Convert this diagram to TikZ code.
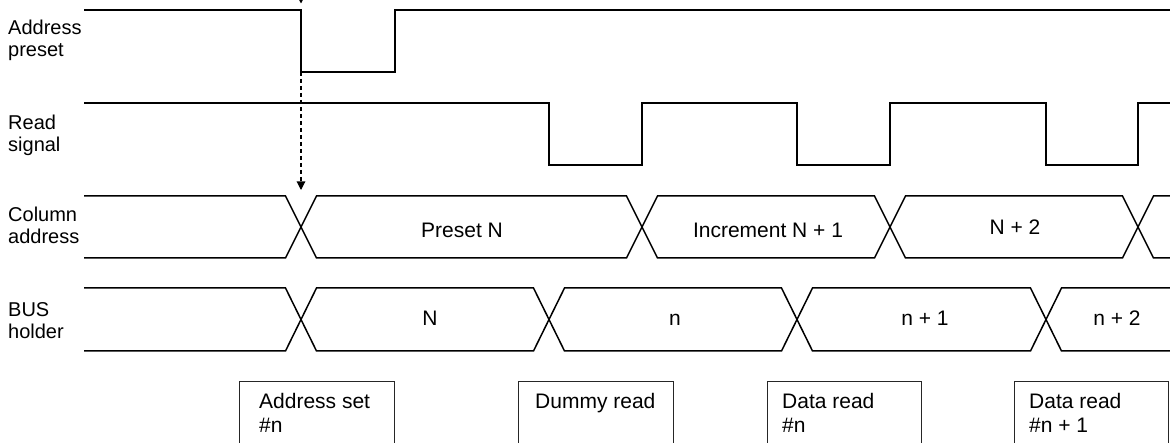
\documentclass[tikz,border=0pt]{standalone}
\usepackage{fontspec}
\setmainfont{Liberation Sans}
\usetikzlibrary{arrows.meta}
\begin{document}
\begin{tikzpicture}[x=1pt,y=-1pt,
  wave/.style={line width=1.5pt, line join=miter},
  guide/.style={line width=1.1pt, dash pattern=on 4pt off 3pt,
    -{Triangle[length=8.5pt,width=8.5pt]}},
  rowlabel/.style={font=\fontsize{20}{22}\selectfont, anchor=base west, inner sep=0pt},
  sigtext/.style={font=\fontsize{21}{24}\selectfont, anchor=base, inner sep=0pt},
  phasetext/.style={font=\fontsize{21}{24}\selectfont, anchor=base west, inner sep=0pt},
  phasebox/.style={draw=black!85, line width=1pt}
]
\clip (0,0) rectangle (1170,443);
\fill[white] (0,0) rectangle (1170,443);

% row labels
\node[rowlabel] (lapA) at (8,35) {Address};
\node[rowlabel] (lapB) at (8,57) {preset};
\node[rowlabel] (lrdA) at (8,130) {Read};
\node[rowlabel] (lrdB) at (8,152) {signal};
\node[rowlabel] (lcaA) at (8,222) {Column};
\node[rowlabel] (lcaB) at (8,244) {address};
\node[rowlabel] (lbhA) at (8,317) {BUS};
\node[rowlabel] (lbhB) at (8,339) {holder};

% address preset pulse
\draw[wave] (84,10) -- (301,10) -- (301,72) -- (395,72) -- (395,10) -- (1180,10);
\coordinate (apTop) at (301,10);
\coordinate (apFall) at (301,72);

% read signal
\draw[wave] (84,103) -- (549,103) -- (549,165) -- (642,165) -- (642,103)
  -- (797,103) -- (797,165) -- (890,165) -- (890,103)
  -- (1046,103) -- (1046,165) -- (1138,165) -- (1138,103) -- (1180,103);

% column address bus (crossings at 301, 642, 890, 1138)
\def\h{15.5}
\draw[wave] (84,196) -- (301-\h,196) -- (301+\h,258) -- (642-\h,258) -- (642+\h,196)
  -- (890-\h,196) -- (890+\h,258) -- (1138-\h,258) -- (1138+\h,196) -- (1180,196);
\draw[wave] (84,258) -- (301-\h,258) -- (301+\h,196) -- (642-\h,196) -- (642+\h,258)
  -- (890-\h,258) -- (890+\h,196) -- (1138-\h,196) -- (1138+\h,258) -- (1180,258);
\coordinate (caTop) at (301,196);

% bus holder (crossings at 301, 549, 797, 1046)
\draw[wave] (84,288) -- (301-\h,288) -- (301+\h,351) -- (549-\h,351) -- (549+\h,288)
  -- (797-\h,288) -- (797+\h,351) -- (1046-\h,351) -- (1046+\h,288) -- (1180,288);
\draw[wave] (84,351) -- (301-\h,351) -- (301+\h,288) -- (549-\h,288) -- (549+\h,351)
  -- (797-\h,351) -- (797+\h,288) -- (1046-\h,288) -- (1046+\h,351) -- (1180,351);

% timing guides
\draw[guide] ([yshift=30pt]apTop) -- ([yshift=6.5pt]apTop);
\draw[guide] (apFall) -- ([yshift=6pt]caTop);

% bus values
\node[sigtext] (vPre) at (462,238) {Preset N};
\node[sigtext] (vInc) at (768,238) {Increment N + 1};
\node[sigtext] (vN2) at (1015,235) {N + 2};
\node[sigtext] (bN) at (430,326) {N};
\node[sigtext] (bn) at (675,326) {n};
\node[sigtext] (bn1) at (925,326) {n + 1};
\node[sigtext] (bn2) at (1117,326) {n + 2};

% phase boxes
\draw[phasebox] (239,382) rectangle (394,460);
\draw[phasebox] (518,382) rectangle (673,460);
\draw[phasebox] (767,382) rectangle (921,460);
\draw[phasebox] (1014,382) rectangle (1168,460);
\node[phasetext] (p1a) at (259,409) {Address set};
\node[phasetext] (p1b) at (259,432) {\#n};
\node[phasetext] (p2a) at (535,409) {Dummy read};
\node[phasetext] (p3a) at (782,409) {Data read};
\node[phasetext] (p3b) at (782,432) {\#n};
\node[phasetext] (p4a) at (1029,409) {Data read};
\node[phasetext] (p4b) at (1029,432) {\#n + 1};
\end{tikzpicture}
\end{document}
